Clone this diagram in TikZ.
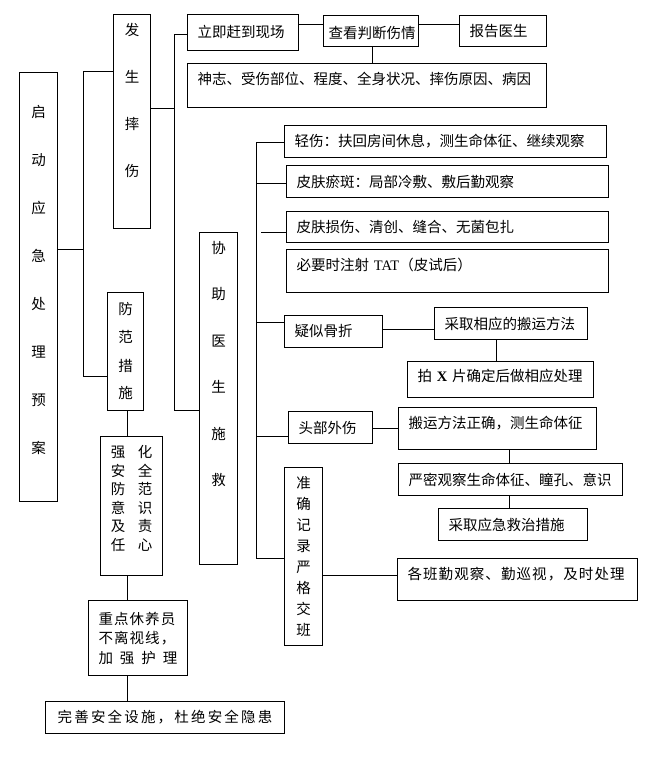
\documentclass[tikz,border=0pt]{standalone}
\usepackage{fontspec}
\setmainfont{Noto Sans CJK SC}
\newfontfamily\cjkmid{Noto Sans CJK SC}[LetterSpace=7.5]
\newfontfamily\cjkwide{Noto Sans CJK SC}[LetterSpace=15]
\newfontfamily\latinserif{Liberation Serif}
\usetikzlibrary{positioning,calc}

\tikzset{
    rowbox/.style 2 args={draw, line width=1pt, anchor=north west, align=left,
        inner xsep=10pt, inner ysep=0pt, text width=#1, minimum height=#2,
        font=\fontsize{14.5}{17}\selectfont},
    colbox/.style n args={3}{draw, line width=1pt, anchor=north west, align=center,
        inner sep=0pt, minimum width=#1, minimum height=#2,
        font=\fontsize{14.5}{#3}\selectfont},
    link/.style={line width=1pt},
}

\begin{document}
\begin{tikzpicture}[x=1pt, y=-1pt]
    \useasboundingbox (0,0) rectangle (659,765);

    % Vertical boxes
    \node[colbox={38pt}{429pt}{48pt}, text depth=16pt] (plan) at (19,72) {启\\动\\应\\急\\处\\理\\预\\案};
    \node[colbox={37pt}{214pt}{47pt}, text depth=44pt] (fall) at (113,14) {发\\生\\摔\\伤};
    \node[colbox={36pt}{118pt}{28pt}] (guard) at (107,292) {防\\范\\措\\施};
    \node[colbox={62pt}{139pt}{18.6pt}, text depth=16pt] (aware) at (100,436)
        {强\hspace{12.5pt}化\\安\hspace{12.5pt}全\\防\hspace{12.5pt}范\\意\hspace{12.5pt}识\\及\hspace{12.5pt}责\\任\hspace{12.5pt}心};
    \node[colbox={38pt}{332pt}{46.5pt}, text depth=70pt] (help) at (199,232) {协\\助\\医\\生\\施\\救};
    \node[colbox={38pt}{178pt}{21pt}] (record) at (284,467) {准\\确\\记\\录\\严\\格\\交\\班};

    % On the spot
    \node[rowbox={91pt}{36pt}] (arrive) at (187,14) {立即赶到现场};
    \node[rowbox={85pt}{31pt}, inner xsep=5pt] (check) at (323,15) {\hspace{4pt}查看判断伤情};
    \node[rowbox={67pt}{31pt}] (report) at (459,15) {报告医生};
    \node[rowbox={339pt}{44pt}, text depth=14pt] (detail) at (187,63) {神志、受伤部位、程度、全身状况、摔伤原因、病因};

    % Helping the doctor
    \node[rowbox={302pt}{32pt}] (light) at (284,125) {轻伤：扶回房间休息，测生命体征、继续观察};
    \node[rowbox={302pt}{32pt}] (bruise) at (286,165) {皮肤瘀斑：局部冷敷、敷后勤观察};
    \node[rowbox={302pt}{31pt}] (wound) at (286,211) {皮肤损伤、清创、缝合、无菌包扎};
    \node[rowbox={302pt}{43pt}, text depth=13pt] (tat) at (286,249) {必要时注射 {\latinserif TAT}（皮试后）};
    \node[rowbox={78pt}{32pt}] (frac) at (284,315) {疑似骨折};
    \node[rowbox={133pt}{32pt}] (carry) at (434,307) {采取相应的搬运方法};
    \node[rowbox={166pt}{36pt}, text depth=8pt] (xray) at (407,361) {拍 {\latinserif\bfseries X} 片确定后做相应处理};
    \node[rowbox={64pt}{32pt}] (head) at (288,411) {头部外伤};
    \node[rowbox={178pt}{42pt}, text depth=12pt] (move) at (398,407) {搬运方法正确，测生命体征};
    \node[rowbox={204pt}{32pt}] (watch) at (398,463) {严密观察生命体征、瞳孔、意识};
    \node[rowbox={129pt}{32pt}] (steps) at (438,508) {采取应急救治措施};
    \node[rowbox={220pt}{42pt}, text depth=12pt, font=\cjkmid\fontsize{14.5}{17}\selectfont] (shift) at (397,558)
        {各班勤观察、勤巡视，及时处理};

    % Prevention
    \node[rowbox={79pt}{75pt}, font=\cjkmid\fontsize{14.5}{19.5}\selectfont] (care) at (88,600)
        {重点休养员\\不离视线，\\加\hfill 强\hfill 护\hfill 理};
    \node[rowbox={219pt}{32pt}, align=center, font=\cjkwide\fontsize{14.5}{17}\selectfont] (safe) at (45,701)
        {完善安全设施，杜绝安全隐患};

    % First level
    \coordinate (k1top) at (83,72);
    \coordinate (k1mid) at (83,249);
    \coordinate (k1bot) at (83,376);
    \draw[link] (plan.east |- k1mid) -- (k1mid);
    \draw[link] (fall.west |- k1top) -- (k1top) -- (k1bot) -- (guard.west |- k1bot);

    % Fall branch
    \coordinate (k2top) at (174,35);
    \coordinate (k2mid) at (174,109);
    \coordinate (k2bot) at (174,410);
    \draw[link] (fall.east |- k2mid) -- (k2mid);
    \draw[link] (arrive.west |- k2top) -- (k2top) -- (k2bot) -- (help.west |- k2bot);

    \coordinate (row1) at (0,25);
    \draw[link] (arrive.east |- row1) -- (check.west |- row1);
    \draw[link] (check.east |- row1) -- (report.west |- row1);
    \coordinate (c1) at (372,0);
    \draw[link] (c1 |- check.south) -- (c1 |- detail.north);

    % Treatment trunk
    \coordinate (k3top) at (256,142);
    \coordinate (k3bot) at (256,558);
    \draw[link] (k3top) -- (k3bot) -- (record.west |- k3bot);
    \foreach \n/\y in {light/142, bruise/183, frac/322, head/436}
        \draw[link] (k3top |- 0,\y) -- (\n.west |- 0,\y);
    \draw[link] (261,232) -- (wound.west |- 0,232);

    % Fracture and head injury
    \draw[link] (frac.east |- 0,329) -- (carry.west |- 0,329);
    \coordinate (c2) at (496,0);
    \draw[link] (c2 |- carry.south) -- (c2 |- xray.north);
    \draw[link] (head.east |- 0,428) -- (move.west |- 0,428);
    \coordinate (c3) at (509,0);
    \draw[link] (c3 |- move.south) -- (c3 |- watch.north);
    \draw[link] (c3 |- watch.south) -- (c3 |- steps.north);
    \draw[link] (record.east |- 0,575) -- (shift.west |- 0,575);

    % Prevention chain
    \coordinate (c4) at (127,0);
    \draw[link] (c4 |- guard.south) -- (c4 |- aware.north);
    \draw[link] (c4 |- aware.south) -- (c4 |- care.north);
    \draw[link] (c4 |- care.south) -- (c4 |- safe.north);
\end{tikzpicture}
\end{document}
